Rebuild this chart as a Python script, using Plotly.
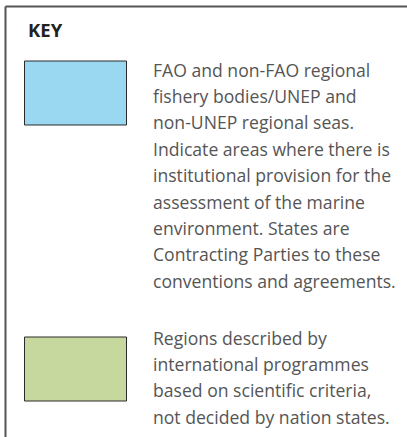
import plotly.graph_objects as go

W, H = 407, 437

key_title = "KEY"
swatch_colours = ["#9ad7f1", "#c6d89e"]
swatch_text = [
    ["FAO and non-FAO regional",
     "fishery bodies/UNEP and",
     "non-UNEP regional seas.",
     "Indicate areas where there is",
     "institutional provision for the",
     "assessment of the marine",
     "environment. States are",
     "Contracting Parties to these",
     "conventions and agreements."],
    ["Regions described by",
     "international programmes",
     "based on scientific criteria,",
     "not decided by nation states."],
]

# layout (pixel coords, y down)
swatch_top = [61, 337]
text_top = [69.5, 337.5]
line_gap = 26.4

fig = go.Figure()
shapes = []
annotations = []

# frame: top and left rule
shapes.append(dict(type="line", x0=5.5, x1=W, y0=6.5, y1=6.5,
                   line=dict(color="#555555", width=2)))
shapes.append(dict(type="line", x0=5.5, x1=5.5, y0=6.5, y1=H,
                   line=dict(color="#555555", width=2)))

annotations.append(dict(x=26, y=29, text="<b>" + key_title + "</b>", showarrow=False,
                        xanchor="left", yanchor="middle",
                        font=dict(family="Open Sans", size=18.5, color="#222222")))

for i, colour in enumerate(swatch_colours):
    shapes.append(dict(type="rect", x0=24.5, x1=126.5,
                       y0=swatch_top[i], y1=swatch_top[i] + 64,
                       fillcolor=colour, line=dict(color="#2a2a2a", width=1)))
    for j, line in enumerate(swatch_text[i]):
        annotations.append(dict(x=151, y=text_top[i] + j * line_gap, text=line,
                                showarrow=False, xanchor="left", yanchor="middle",
                                font=dict(family="Open Sans", size=17.6, color="#555555")))

fig.update_layout(
    width=W, height=H,
    margin=dict(l=0, r=0, t=0, b=0),
    paper_bgcolor="white", plot_bgcolor="white",
    xaxis=dict(range=[0, W], visible=False, fixedrange=True),
    yaxis=dict(range=[H, 0], visible=False, fixedrange=True),
    shapes=shapes, annotations=annotations,
    showlegend=False,
)

# drop the default 8px page margin so the figure fills the window
fig.write_html("out.html", config={"displayModeBar": False},
               post_script="document.body.style.margin='0px';")
